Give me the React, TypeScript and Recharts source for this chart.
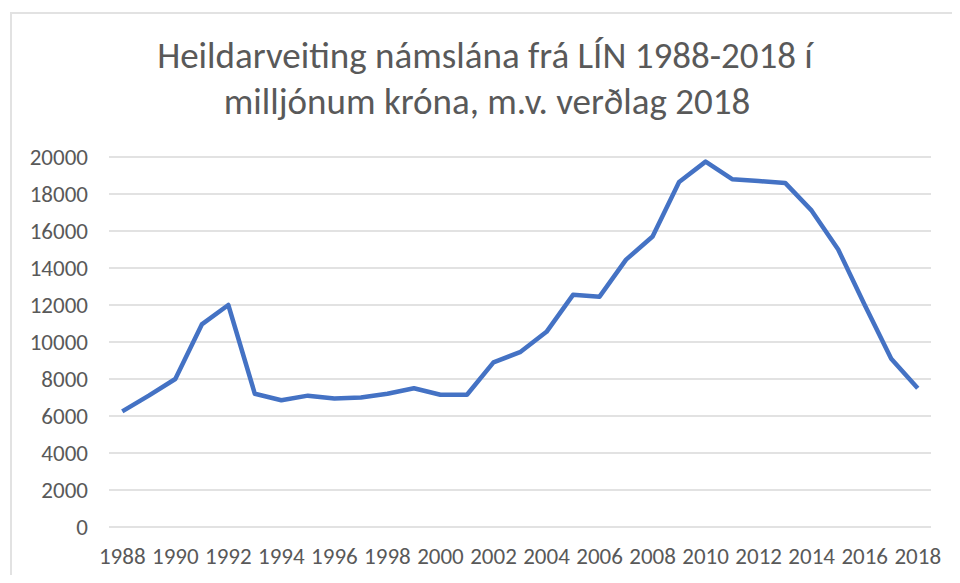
import React from 'react';
import { LineChart, Line, XAxis, YAxis, CartesianGrid } from 'recharts';

const years = [
  '1988', '1989', '1990', '1991', '1992', '1993', '1994', '1995', '1996', '1997',
  '1998', '1999', '2000', '2001', '2002', '2003', '2004', '2005', '2006', '2007',
  '2008', '2009', '2010', '2011', '2012', '2013', '2014', '2015', '2016', '2017', '2018',
];

const loans = [
  6250, 7100, 8000, 10950, 12000, 7200, 6850, 7100, 6950, 7000,
  7200, 7500, 7150, 7150, 8900, 9450, 10550, 12550, 12450, 14450,
  15700, 18650, 19750, 18800, 18700, 18600, 17100, 15000, 12000, 9100, 7500,
];

const yTicks = [0, 2000, 4000, 6000, 8000, 10000, 12000, 14000, 16000, 18000, 20000];

const titleLines = ['Heildarveiting námslána frá LÍN 1988-2018 í', 'milljónum króna, m.v. verðlag 2018'];

const data = years.map((year, i) => ({ year, value: loans[i] }));

const font = 'Carlito, Lato, sans-serif';
const textColor = '#595959';

export default function App() {
  return (
    <div style={{ position: 'relative', width: 960, height: 583, margin: -8, overflow: 'hidden', background: '#fff' }}>
      <div
        style={{
          position: 'absolute', left: 10, top: 12, width: 960, height: 583,
          borderLeft: '2px solid #e2e2e2', borderTop: '2px solid #e2e2e2',
        }}
      />
      <svg width={960} height={140} style={{ position: 'absolute', left: 0, top: 0 }}>
        <text x={485} y={68} textAnchor="middle" fontFamily={font} fontSize={37} fill={textColor}>
          {titleLines[0]}
        </text>
        <text x={487} y={114} textAnchor="middle" fontFamily={font} fontSize={37} fill={textColor}>
          {titleLines[1]}
        </text>
      </svg>
      <div style={{ position: 'absolute', left: 0, top: 0 }}>
        <LineChart width={960} height={583} data={data} margin={{ top: 157, right: 29, bottom: 26, left: 29 }}>
          <CartesianGrid vertical={false} stroke="#d9d9d9" strokeWidth={1.5} />
          <XAxis
            dataKey="year"
            scale="band"
            interval={1}
            axisLine={false}
            tickLine={false}
            height={30}
            tickMargin={15}
            tick={{ fill: textColor, fontSize: 23, fontFamily: font }}
          />
          <YAxis
            domain={[0, 20000]}
            ticks={yTicks}
            axisLine={false}
            tickLine={false}
            width={80}
            tickMargin={15}
            tick={{ fill: textColor, fontSize: 23, fontFamily: font }}
          />
          <Line
            type="linear"
            dataKey="value"
            stroke="#4472C4"
            strokeWidth={4.5}
            strokeLinejoin="round"
            dot={false}
            isAnimationActive={false}
          />
        </LineChart>
      </div>
    </div>
  );
}
